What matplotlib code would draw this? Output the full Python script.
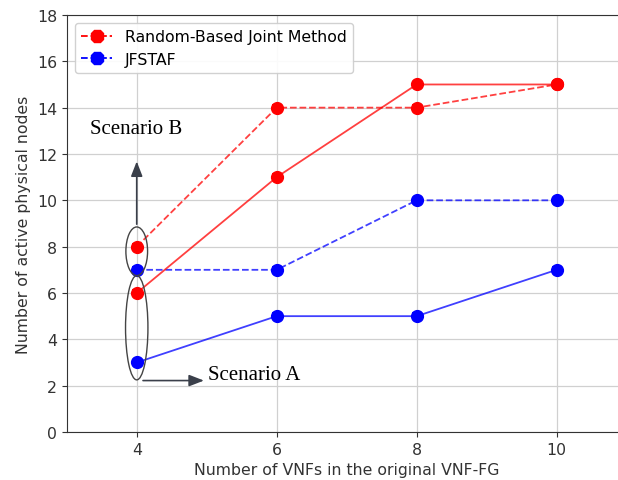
import matplotlib
matplotlib.use("Agg")
import matplotlib.pyplot as plt
from matplotlib.patches import Ellipse

x_vnfs = [4, 6, 8, 10]
random_a = [6, 11, 15, 15]
random_b = [8, 14, 14, 15]
jfstaf_a = [3, 5, 5, 7]
jfstaf_b = [7, 7, 10, 10]
series_labels = ["Random-Based Joint Method", "JFSTAF"]

fig = plt.figure(figsize=(6.18, 4.81), dpi=100)
ax = fig.add_axes([0.108, 0.0998, 0.906, 0.867])

def draw(y, color, ls, label=None):
    ax.plot(x_vnfs, y, color=color, ls=ls, lw=1.3, alpha=0.75, zorder=3)
    ax.errorbar(x_vnfs, y, yerr=0.12, color=color, ls='none', marker='o',
                ms=8.5, capsize=3.5, elinewidth=1.5, capthick=1.5, zorder=4)
    if label:
        ax.plot([], [], color=color, ls=ls, lw=1.3, marker='8', ms=10,
                label=label)

draw(random_b, 'red', '--', series_labels[0])
draw(jfstaf_b, 'blue', '--', series_labels[1])
draw(random_a, 'red', '-')
draw(jfstaf_a, 'blue', '-')

ax.set_xlim(3, 11)
ax.set_ylim(0, 18)
ax.set_xticks([4, 6, 8, 10])
ax.set_yticks(range(0, 19, 2))
ax.grid(True, color='#d0d0d0', lw=0.9)
ax.set_axisbelow(True)
for s in ax.spines.values():
    s.set_color('#333333')
ax.spines['right'].set_visible(False)
ax.tick_params(colors='#333333', labelsize=11.3)
ax.set_xlabel("Number of VNFs in the original VNF-FG", fontsize=11.3, color='#333333')
ax.set_ylabel("Number of active physical nodes", fontsize=11.3, color='#333333')

ax.legend(loc='upper left', fontsize=11.3, framealpha=0.9, edgecolor='#cccccc')

# annotations
ax.add_patch(Ellipse((4, 7.8), 0.31, 2.1, fill=False, ec='#444444', lw=1, zorder=5))
ax.add_patch(Ellipse((4, 4.5), 0.32, 4.5, fill=False, ec='#444444', lw=1, zorder=5))
ax.annotate("", xy=(4, 11.8), xytext=(4, 8.85),
            arrowprops=dict(arrowstyle='-|>,head_length=0.9,head_width=0.35',
                            color='#3a3f4a', lw=1.2), zorder=5)
ax.annotate("", xy=(5.0, 2.22), xytext=(4.05, 2.22),
            arrowprops=dict(arrowstyle='-|>,head_length=0.9,head_width=0.35',
                            color='#3a3f4a', lw=1.2), zorder=5)
ax.text(3.33, 13.1, "Scenario B", family='Liberation Serif', fontsize=15,
        va='center', ha='left', color='black')
ax.text(5.02, 2.5, "Scenario A", family='Liberation Serif', fontsize=15,
        va='center', ha='left', color='black')

fig.savefig("out.png", dpi=100)
